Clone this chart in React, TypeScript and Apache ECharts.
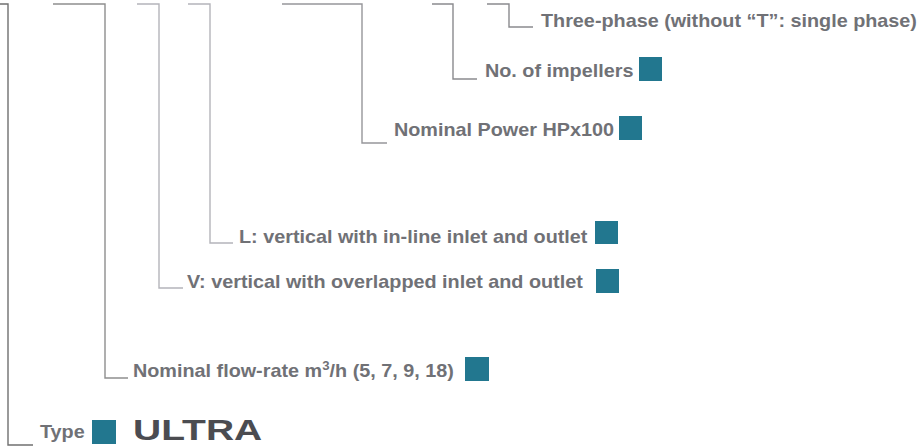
import React, { useEffect, useRef } from "react";
import * as echarts from "echarts";

// Diagram content
const labels = [
  "Three-phase (without \u201CT\u201D: single phase)",
  "No. of impellers",
  "Nominal Power HPx100",
  "L: vertical with in-line inlet and outlet",
  "V: vertical with overlapped inlet and outlet",
  "Nominal flow-rate m{sup|3}/h (5, 7, 9, 18)",
  "Type",
];
const productName = "ULTRA";
const hasSquare = [false, true, true, true, true, true, true];

// Layout (pixels)
const textX = [541, 485, 394, 239, 187, 133, 40];
const textY = [21, 71, 130, 237, 282, 371, 432];
const squares = [
  null,
  [639, 57, 23, 24],
  [619, 116, 23, 24],
  [595, 221, 23, 23],
  [596, 269, 23, 24],
  [465, 357, 24, 24],
  [92, 420, 24, 24],
];
// bracket: start x, vertical x, bottom y, end x
const brackets = [
  [487, 509, 27, 533],
  [432, 453, 79, 477],
  [282, 362, 143, 387],
  [188, 210, 243, 233],
  [137, 159, 288, 183],
  [53, 105, 378, 128],
  [0, 8, 445, 33],
];
const lineColors = ["#8a8a8e", "#8a8a8e", "#96969a", "#b4b4ba", "#b4b4ba", "#8e8e8e", "#707070"];

const TEXT_COLOR = "#707176";
const SQUARE_COLOR = "#22778f";
const TOP_Y = 4;

export default function App() {
  const ref = useRef<HTMLDivElement>(null);
  useEffect(() => {
    document.body.style.margin = "0";
    const chart = echarts.init(ref.current!, null, { renderer: "svg" });
    const elements: any[] = [];
    brackets.forEach((b, i) => {
      elements.push({
        type: "polyline",
        shape: { points: [[b[0], TOP_Y], [b[1], TOP_Y], [b[1], b[2]], [b[3], b[2]]] },
        style: { stroke: lineColors[i], lineWidth: 1.4, fill: null },
      });
    });
    labels.forEach((t, i) => {
      elements.push({
        type: "text",
        x: textX[i],
        y: textY[i],
        scaleX: 1.1,
        style: {
          text: t,
          fill: TEXT_COLOR,
          font: "bold 18px 'Liberation Sans', Arial, sans-serif",
          align: "left",
          verticalAlign: "middle",
          rich: {
            sup: {
              fill: TEXT_COLOR,
              font: "bold 12px 'Liberation Sans', Arial, sans-serif",
              verticalAlign: "top",
              padding: [0, 0, 10, 0],
            },
          },
        },
      });
      const s = squares[i];
      if (hasSquare[i] && s) {
        elements.push({
          type: "rect",
          shape: { x: s[0], y: s[1], width: s[2], height: s[3] },
          style: { fill: SQUARE_COLOR },
        });
      }
    });
    elements.push({
      type: "text",
      x: 133,
      y: 430,
      scaleX: 1.3,
      style: {
        text: productName,
        fill: "#4b4c51",
        font: "bold 30px 'Liberation Sans', Arial, sans-serif",
        align: "left",
        verticalAlign: "middle",
      },
    });
    chart.setOption({
      animation: false,
      backgroundColor: "#ffffff",
      graphic: { elements },
    });
    return () => chart.dispose();
  }, []);
  return <div ref={ref} style={{ width: 924, height: 448 }} />;
}
